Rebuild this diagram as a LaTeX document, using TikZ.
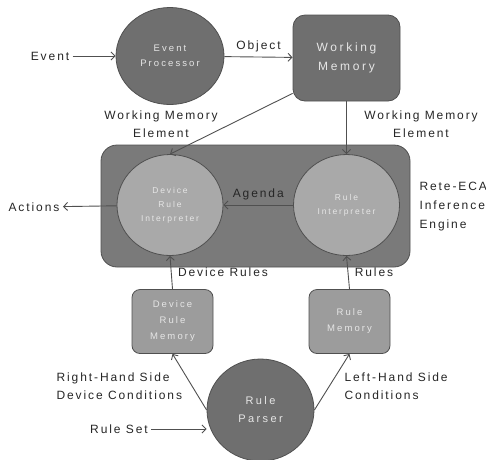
\documentclass[tikz,border=0pt]{standalone}
\usepackage{fontspec}
\setmainfont[LetterSpace=16]{Liberation Sans}
\newfontfamily\innerfont[LetterSpace=22]{Liberation Sans}
\usetikzlibrary{arrows.meta,shapes.geometric}
\definecolor{darkbox}{HTML}{6F6F6F}
\definecolor{enginebox}{HTML}{7A7A7A}
\definecolor{lightbox}{HTML}{A9A9A9}
\definecolor{membox}{HTML}{9C9C9C}
\definecolor{edgegray}{HTML}{505050}
\definecolor{innertext}{HTML}{E6E6E6}
\begin{document}
\begin{tikzpicture}[x=1pt,y=-1pt]
    \tikzstyle{darkellipse}=[ellipse,draw=edgegray,fill=darkbox,line width=0.8pt,minimum width=108pt,minimum height=97pt,text=innertext,align=center,font=\innerfont\fontsize{9.5}{15}\selectfont]
    \tikzstyle{lightellipse}=[ellipse,draw=edgegray,fill=lightbox,line width=0.8pt,minimum width=106pt,minimum height=101pt,text=innertext,align=center,font=\innerfont\fontsize{8.5}{14}\selectfont]
    \tikzstyle{darkrect}=[rectangle,rounded corners=12pt,draw=edgegray,fill=darkbox,line width=0.8pt,minimum width=107pt,minimum height=86pt,text=innertext,align=center,font=\innerfont\fontsize{12}{19}\selectfont]
    \tikzstyle{memrect}=[rectangle,rounded corners=8pt,draw=edgegray,fill=membox,line width=0.8pt,minimum width=81pt,minimum height=64pt,text=innertext,align=center,font=\innerfont\fontsize{9.5}{16}\selectfont]
    \tikzstyle{lbl}=[text=black!85,align=center,font=\fontsize{12}{18}\selectfont]
    \tikzstyle{flow}=[draw=edgegray,line width=0.9pt,-{Straight Barb[length=4pt,width=8pt]}]
    \useasboundingbox (0,0) rectangle (486,459);
    % engine frame
    \node (eng)[rectangle,rounded corners=16pt,draw=edgegray,fill=enginebox,line width=0.8pt,minimum width=309pt,minimum height=122pt] at (255.5,206) {};
    % main blocks
    \node (ep)[darkellipse] at (170,56) {Event\\Processor};
    \node (wm)[darkrect] at (346.5,58) {Working\\Memory};
    \node (dri)[lightellipse] at (170,205) {Device\\Rule\\Interpreter};
    \node (ri)[lightellipse] at (346.5,205) {Rule\\Interpreter};
    \node (drm)[memrect] at (172.5,321.5) {Device\\Rule\\Memory};
    \node (rm)[memrect] at (349.5,321.5) {Rule\\Memory};
    \node (rp)[darkellipse,minimum width=107pt,minimum height=102pt,font=\innerfont\fontsize{11}{18}\selectfont] at (260.5,410) {Rule\\Parser};
    % outside labels
    \node (ev)[lbl] at (50,56) {Event};
    \node (act)[lbl] at (34,207) {Actions};
    \node (rete)[lbl,align=left,anchor=west,font=\fontsize{12}{19}\selectfont] at (416,207) {Rete-ECA\\Inference\\Engine};
    \node (rs)[lbl] at (119,429) {Rule Set};
    \node (rhs)[lbl,align=left,anchor=west] at (53,386) {Right-Hand Side\\Device Conditions};
    \node (lhs)[lbl,align=left,anchor=west] at (341,386) {Left-Hand Side\\Conditions};
    \node (wmel)[lbl] at (161,124) {Working Memory\\Element};
    \node (wmer)[lbl] at (421,124) {Working Memory\\Element};
    % connectors
    \draw [flow] (ev) -- (ep);
    \draw [flow] (ep) -- node[lbl,above=1pt] {Object} (wm);
    \draw [flow] ([yshift=8pt]wm.south west) -- (dri.north);
    \draw [flow] (wm.south) -- (ri.north);
    \draw [flow] (ri) -- node[lbl,above=1pt] {Agenda} (dri);
    \draw [flow] (dri) -- (act);
    \draw [flow] (drm.north) -- node[lbl,right=3pt] {Device Rules} (dri.south);
    \draw [flow] (rm.north) -- node[lbl,right=3pt] {Rules} (ri.south);
    \draw [flow] (rp.west) -- (drm.south);
    \draw [flow] (rp.east) -- (rm.south);
    \draw [flow] (rs.east) -- (rs.east -| rp.west);
\end{tikzpicture}
\end{document}
